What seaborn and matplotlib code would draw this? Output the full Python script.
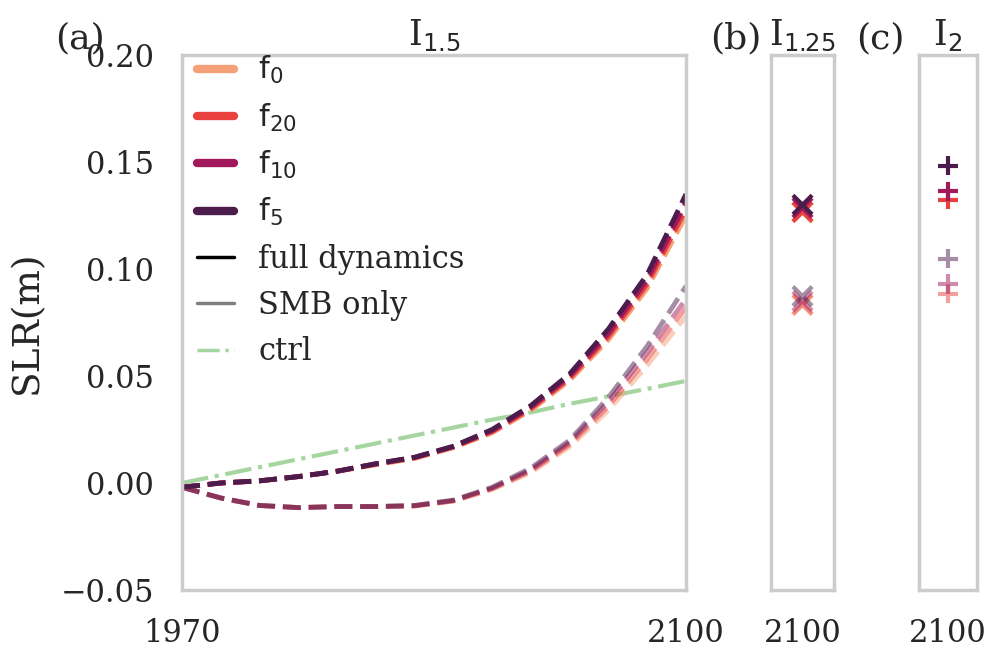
import numpy as np
import pandas as pd
import matplotlib
matplotlib.use("Agg")
import matplotlib.pyplot as plt
import seaborn as sns
from matplotlib.lines import Line2D

# ---------------------------------------------------------
# DATA
# ---------------------------------------------------------

years = [1970, 1980, 1990, 2000, 2010, 2020, 2030, 2040, 2050, 2060, 2070, 2080, 2090, 2100]
f_names = ["f0", "f20", "f10", "f5"]
f_labels = [r"$\mathrm{f}_{0}$", r"$\mathrm{f}_{20}$", r"$\mathrm{f}_{10}$", r"$\mathrm{f}_{5}$"]
f_colors = ["#f5a077", "#e8413f", "#a1195b", "#4b1c4c"]

# full dynamics, I_1.5
full_f0 = [-0.002, 0.0, 0.001, 0.003, 0.0055, 0.0085, 0.0115, 0.0165, 0.0235, 0.0340, 0.0480, 0.0670, 0.0910, 0.125]
full_f20 = [-0.002, 0.0, 0.001, 0.003, 0.0055, 0.0088, 0.0118, 0.0168, 0.0240, 0.0348, 0.0490, 0.0685, 0.0930, 0.128]
full_f10 = [-0.002, 0.0, 0.001, 0.003, 0.0055, 0.0090, 0.0120, 0.0170, 0.0245, 0.0355, 0.0500, 0.0700, 0.0950, 0.131]
full_f5 = [-0.002, 0.0, 0.001, 0.003, 0.0055, 0.0090, 0.0120, 0.0172, 0.0250, 0.0362, 0.0510, 0.0720, 0.0975, 0.135]

# SMB only, I_1.5
smb_f0 = [-0.002, -0.007, -0.0105, -0.0115, -0.011, -0.011, -0.0108, -0.0085, -0.0030, 0.0050, 0.0170, 0.0340, 0.0550, 0.078]
smb_f20 = [-0.002, -0.007, -0.0105, -0.0115, -0.011, -0.011, -0.0107, -0.0083, -0.0027, 0.0056, 0.0180, 0.0360, 0.0580, 0.082]
smb_f10 = [-0.002, -0.007, -0.0105, -0.0115, -0.011, -0.011, -0.0106, -0.0082, -0.0024, 0.0062, 0.0190, 0.0380, 0.0610, 0.086]
smb_f5 = [-0.002, -0.007, -0.0105, -0.0115, -0.011, -0.011, -0.0105, -0.0080, -0.0020, 0.0070, 0.0200, 0.0400, 0.0640, 0.092]

# control run
ctrl = [0.0, 0.0037, 0.0074, 0.0111, 0.0148, 0.0185, 0.0222, 0.0259, 0.0296, 0.0330, 0.0370, 0.0405, 0.0440, 0.0477]

# end values at 2100, I_1.25 (b) and I_2 (c)
b_full = [0.1265, 0.1267, 0.1286, 0.1300]
b_smb = [0.0830, 0.0835, 0.0850, 0.0873]
c_names = ["f20", "f10", "f5"]
c_full = [0.1323, 0.1364, 0.1482]
c_smb = [0.0884, 0.0930, 0.1048]

# ---------------------------------------------------------
# STYLE
# ---------------------------------------------------------

sns.set_theme(style="white", context="poster", font="serif")
plt.rcParams["font.family"] = ["DejaVu Serif"]
plt.rcParams["mathtext.fontset"] = "dejavusans"

palette = dict(zip(f_names, f_colors))

full_df = pd.DataFrame({
    "year": years * 4,
    "slr": full_f0 + full_f20 + full_f10 + full_f5,
    "f": [n for n in f_names for _ in years],
})
smb_df = pd.DataFrame({
    "year": years * 4,
    "slr": smb_f0 + smb_f20 + smb_f10 + smb_f5,
    "f": [n for n in f_names for _ in years],
})
ctrl_df = pd.DataFrame({"year": years, "slr": ctrl})

fig = plt.figure(figsize=(9.91, 6.49), dpi=100)
W, H = 991, 649
bottom = 1 - 590 / H
height = (590 - 55) / H
ax_a = fig.add_axes([182 / W, bottom, (686 - 182) / W, height])
ax_b = fig.add_axes([771 / W, bottom, (834 - 771) / W, height])
ax_c = fig.add_axes([919 / W, bottom, (977 - 919) / W, height])

# ---------------------------------------------------------
# PANEL (a)
# ---------------------------------------------------------

sns.lineplot(data=ctrl_df, x="year", y="slr", ax=ax_a, color="#a6d6a0",
             linestyle="-.", lw=3, legend=False)
sns.lineplot(data=smb_df, x="year", y="slr", hue="f", hue_order=f_names,
             palette=palette, ax=ax_a, linestyle="--", lw=3.5, alpha=0.5,
             legend=False)
sns.lineplot(data=full_df, x="year", y="slr", hue="f", hue_order=f_names,
             palette=palette, ax=ax_a, linestyle="--", lw=3.5, legend=False)

ax_a.set_xlim(1970, 2100)
ax_a.set_ylim(-0.05, 0.20)
ax_a.set_xticks([1970, 2100])
ax_a.set_yticks([-0.05, 0.0, 0.05, 0.10, 0.15, 0.20])
ax_a.set_xlabel("")
ax_a.set_ylabel("SLR(m)", fontsize=27)
ax_a.yaxis.set_label_coords(-0.272, 0.5)
ax_a.set_title(r"I$_{1.5}$", fontsize=25, pad=7)

handles = [Line2D([], [], color=c, lw=6, solid_capstyle="round") for c in f_colors]
handles += [
    Line2D([], [], color="black", lw=2.5),
    Line2D([], [], color="gray", lw=2.5),
    Line2D([], [], color="#a6d6a0", lw=2.5, linestyle="-."),
]
labels = f_labels + ["full dynamics", "SMB only", "ctrl"]
ax_a.legend(handles, labels, loc="upper left", frameon=False, fontsize=22,
            handlelength=1.2, handletextpad=0.8, labelspacing=0.5,
            borderaxespad=0.1, bbox_to_anchor=(0.0, 1.03))

# ---------------------------------------------------------
# PANELS (b) AND (c)
# ---------------------------------------------------------

b_df = pd.DataFrame({"year": [2100] * 4, "full": b_full, "smb": b_smb, "f": f_names})
c_df = pd.DataFrame({"year": [2100] * 3, "full": c_full, "smb": c_smb, "f": c_names})

sns.scatterplot(data=b_df, x="year", y="smb", hue="f", palette=palette,
                marker="x", s=190, linewidth=3, alpha=0.5, ax=ax_b, legend=False)
sns.scatterplot(data=b_df, x="year", y="full", hue="f", palette=palette,
                marker="x", s=190, linewidth=3, ax=ax_b, legend=False)
sns.scatterplot(data=c_df, x="year", y="smb", hue="f", palette=palette,
                marker="+", s=190, linewidth=3, alpha=0.5, ax=ax_c, legend=False)
sns.scatterplot(data=c_df, x="year", y="full", hue="f", palette=palette,
                marker="+", s=190, linewidth=3, ax=ax_c, legend=False)

for ax, title in [(ax_b, r"I$_{1.25}$"), (ax_c, r"I$_{2}$")]:
    ax.set_xlim(2099, 2101)
    ax.set_ylim(-0.05, 0.20)
    ax.set_xticks([2100])
    ax.set_yticks([])
    ax.set_xlabel("")
    ax.set_ylabel("")
    ax.set_title(title, fontsize=25, pad=7)

for ax in [ax_a, ax_b, ax_c]:
    ax.tick_params(labelsize=22, length=0, pad=20)
    for sp in ax.spines.values():
        sp.set_color("#cccccc")
        sp.set_linewidth(2.5)

fig.text(80 / W, 1 - 38 / H, "(a)", fontsize=26, ha="center", va="center")
fig.text(736 / W, 1 - 38 / H, "(b)", fontsize=26, ha="center", va="center")
fig.text(880 / W, 1 - 38 / H, "(c)", fontsize=26, ha="center", va="center")

fig.savefig("out.png", dpi=100)
